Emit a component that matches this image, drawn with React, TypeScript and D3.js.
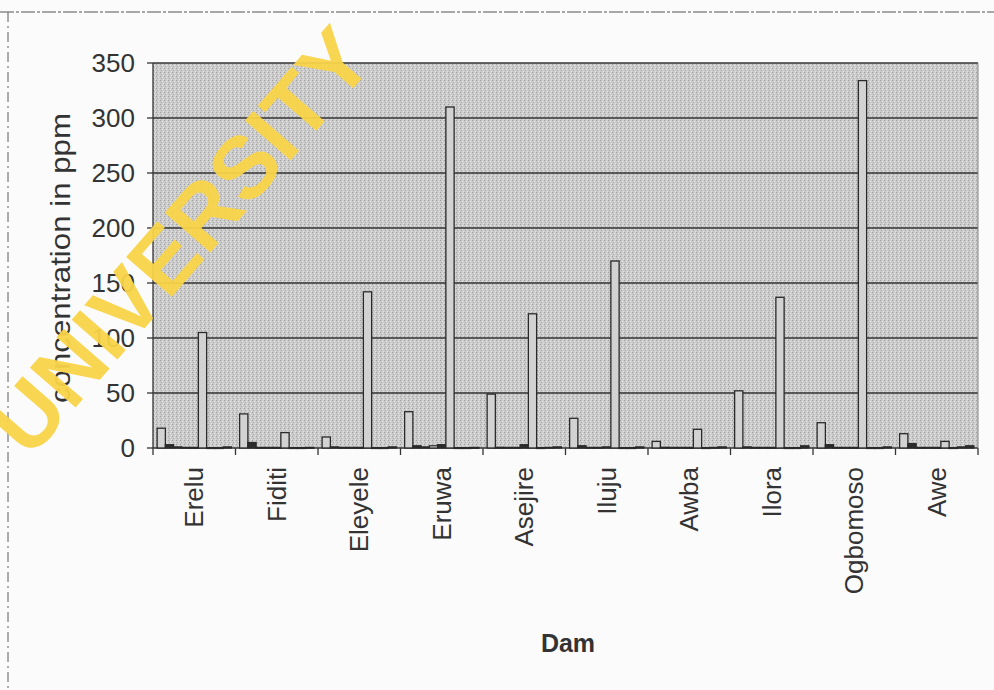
import React from "react";
import * as d3 from "d3";

const dams = ["Erelu", "Fiditi", "Eleyele", "Eruwa", "Asejire", "Iluju", "Awba", "Ilora", "Ogbomoso", "Awe"];
const yTicks = [0, 50, 100, 150, 200, 250, 300, 350];

// nine parameter series per dam (ppm)
const s1 = [18, 31, 10, 33, 49, 27, 6, 52, 23, 13];
const s2 = [3, 5, 1, 2, 0.6, 2, 0.6, 1, 3, 4];
const s3 = [1, 0.5, 0.5, 1, 0.5, 0.5, 0.5, 0.5, 0.5, 0.5];
const s4 = [0.5, 0.5, 0.5, 2, 0.5, 0.5, 0.5, 0.5, 0.5, 0.5];
const s5 = [0.5, 0.5, 0.5, 3, 3, 1, 0.5, 0.5, 0.5, 0.5];
const s6 = [105, 14, 142, 310, 122, 170, 17, 137, 334, 6];
const s7 = [0.3, 0.3, 0.3, 0.3, 0.3, 0.3, 0.3, 0.3, 0.3, 0.3];
const s8 = [0.3, 0.3, 0.3, 0.3, 0.5, 0.3, 0.5, 0.3, 0.3, 1];
const s9 = [1, 0.5, 1, 0.5, 1, 1, 1, 2, 1, 2];
const seriesList = [s1, s2, s3, s4, s5, s6, s7, s8, s9];
const seriesFill = ["#d2d2d2", "#2b2b2b", "#e0e0e0", "#f0f0f0", "#2b2b2b", "#d2d2d2", "#e0e0e0", "#f0f0f0", "#2b2b2b"];

export default function App() {
  const W = 994, H = 690;
  const left = 153, right = 978, top = 63, bottom = 448;
  const x = d3.scaleBand().domain(dams).range([left, right]).padding(0);
  const inner = d3.scaleBand<number>().domain(d3.range(seriesList.length))
    .range([x.bandwidth() * 0.05, x.bandwidth() * 0.95]).padding(0);
  const y = d3.scaleLinear().domain([0, 350]).range([bottom, top]);
  const font = "'Liberation Sans', Arial, sans-serif";
  return (
    <svg width={W} height={H} style={{ position: "absolute", left: 0, top: 0, background: "#fbfbfb" }} fontFamily={font}>
      <defs>
        <pattern id="stip" width="4" height="4" patternUnits="userSpaceOnUse">
          <rect width="4" height="4" fill="#cbcbcb" />
          <rect x="0" y="0" width="1" height="1" fill="#9e9e9e" />
          <rect x="2" y="1" width="1" height="1" fill="#e8e8e8" />
          <rect x="1" y="2" width="1" height="1" fill="#a8a8a8" />
          <rect x="3" y="3" width="1" height="1" fill="#e2e2e2" />
        </pattern>
      </defs>
      {/* outer dashed border */}
      <line x1={0} y1={12} x2={W} y2={12} stroke="#555" strokeWidth={1.2} strokeDasharray="14 2 3 2" />
      <line x1={8} y1={12} x2={8} y2={H} stroke="#777" strokeWidth={1.2} strokeDasharray="10 4 2 4" />
      {/* plot area */}
      <rect x={left} y={top} width={right - left} height={bottom - top} fill="url(#stip)" />
      {yTicks.map((t) => (
        <g key={t}>
          <line x1={left} x2={right} y1={y(t)} y2={y(t)} stroke="#333" strokeWidth={1.4} />
          <line x1={left - 6} x2={left} y1={y(t)} y2={y(t)} stroke="#333" strokeWidth={1.3} />
          <text x={135} y={y(t) + 9} textAnchor="end" fontSize={26} fill="#333">{t}</text>
        </g>
      ))}
      <line x1={left} x2={left} y1={top} y2={bottom} stroke="#333" strokeWidth={1.3} />
      <line x1={right} x2={right} y1={top} y2={bottom} stroke="#888" strokeWidth={1} />
      {/* bars */}
      {dams.map((d, i) => (
        <g key={d} transform={`translate(${x(d)},0)`}>
          {seriesList.map((s, k) => {
            const v = s[i];
            const h = bottom - y(v);
            return (
              <rect key={k} x={inner(k)} y={y(v)} width={inner.bandwidth()} height={Math.max(h, 0.8)}
                fill={seriesFill[k]} stroke="#2a2a2a" strokeWidth={1.3} />
            );
          })}
        </g>
      ))}
      {/* x axis ticks */}
      {dams.concat(["end"]).map((d, i) => {
        const xp = left + i * x.bandwidth();
        return <line key={d + i} x1={xp} x2={xp} y1={bottom} y2={bottom + 7} stroke="#333" strokeWidth={1.3} />;
      })}
      {dams.map((d) => {
        const cx = (x(d) as number) + x.bandwidth() / 2 + 9;
        return (
          <text key={d} transform={`translate(${cx},467) rotate(-90)`} textAnchor="end" fontSize={26} fill="#333">{d}</text>
        );
      })}
      <text transform="translate(70,258) rotate(-90)" textAnchor="middle" fontSize={28} fill="#333"
        textLength={290} lengthAdjust="spacingAndGlyphs">concentration in ppm</text>
      <text x={568} y={652} textAnchor="middle" fontSize={25} fontWeight="bold" fill="#333">Dam</text>
      {/* watermark */}
      <text transform="translate(30,460) rotate(-49)" fontSize={88} fontWeight="bold" fill="#f9d448" fillOpacity={0.95}>UNIVERSITY</text>
    </svg>
  );
}
